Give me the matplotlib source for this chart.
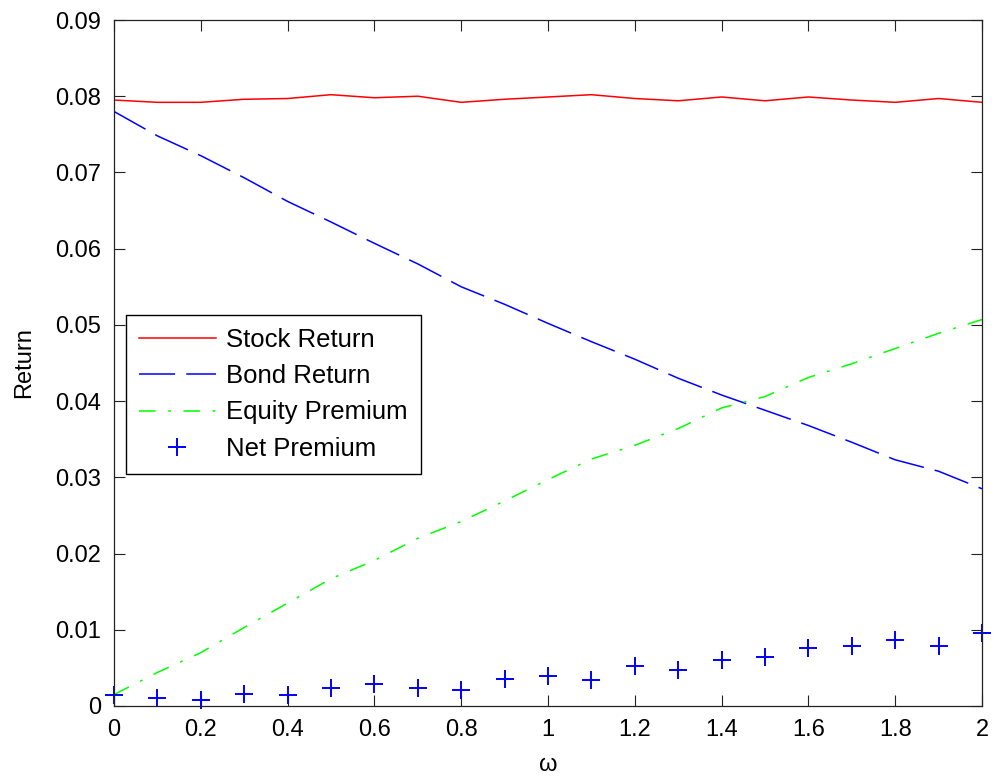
import matplotlib
matplotlib.use("Agg")
import matplotlib.pyplot as plt
import numpy as np

#%% Data
omega = [0.0, 0.1, 0.2, 0.3, 0.4, 0.5, 0.6, 0.7, 0.8, 0.9, 1.0,
         1.1, 1.2, 1.3, 1.4, 1.5, 1.6, 1.7, 1.8, 1.9, 2.0]
stock_return = [0.0795, 0.0792, 0.0792, 0.0796, 0.0797, 0.0802, 0.0798, 0.0800, 0.0792, 0.0796, 0.0799,
                0.0802, 0.0797, 0.0794, 0.0799, 0.0794, 0.0799, 0.0795, 0.0792, 0.0797, 0.0792]
bond_return = [0.0780, 0.0748, 0.0722, 0.0693, 0.0662, 0.0635, 0.0607, 0.0580, 0.0550, 0.0527, 0.0502,
               0.0478, 0.0455, 0.0430, 0.0408, 0.0388, 0.0368, 0.0346, 0.0323, 0.0308, 0.0285]
equity_premium = [0.0015, 0.0044, 0.0070, 0.0103, 0.0135, 0.0167, 0.0191, 0.0220, 0.0242, 0.0269, 0.0297,
                  0.0324, 0.0342, 0.0364, 0.0391, 0.0406, 0.0431, 0.0449, 0.0469, 0.0489, 0.0507]
net_premium = [0.0014, 0.0011, 0.0008, 0.0016, 0.0015, 0.0024, 0.0029, 0.0024, 0.0021, 0.0035, 0.0040,
               0.0034, 0.0053, 0.0047, 0.0060, 0.0064, 0.0076, 0.0079, 0.0087, 0.0079, 0.0096]

xticks = [0, 0.2, 0.4, 0.6, 0.8, 1.0, 1.2, 1.4, 1.6, 1.8, 2.0]
xtick_labels = ["0", "0.2", "0.4", "0.6", "0.8", "1", "1.2", "1.4", "1.6", "1.8", "2"]
yticks = [0, 0.01, 0.02, 0.03, 0.04, 0.05, 0.06, 0.07, 0.08, 0.09]
ytick_labels = ["0", "0.01", "0.02", "0.03", "0.04", "0.05", "0.06", "0.07", "0.08", "0.09"]

#%% Style
plt.rcParams["font.family"] = ["Liberation Sans", "DejaVu Sans"]
plt.rcParams["font.size"] = 17
plt.rcParams["lines.scale_dashes"] = False

fig = plt.figure(figsize=(9.93, 7.8), dpi=100)
ax = fig.add_axes([114 / 993, 1 - 706 / 780, 868 / 993, 686 / 780])

ax.plot(omega, stock_return, color="#ff0000", lw=1.1, label="Stock Return")
ax.plot(omega, bond_return, color="#0000ff", lw=1.1, dashes=(26, 8), label="Bond Return")
ax.plot(omega, equity_premium, color="#00ff00", lw=1.1, dashes=(12, 9, 2, 9), label="Equity Premium")
ax.plot(omega, net_premium, linestyle="none", marker="+", markersize=13.5, markeredgewidth=1.4,
        color="#0000ff", clip_on=False, label="Net Premium")

ax.set_xlim(0, 2)
ax.set_ylim(0, 0.09)
ax.set_xticks(xticks)
ax.set_xticklabels(xtick_labels)
ax.set_yticks(yticks)
ax.set_yticklabels(ytick_labels)
ax.tick_params(direction="in", length=8, width=0.8, color="#222222",
               top=True, right=True, labelsize=17)
ax.tick_params(axis="x", pad=9)
ax.tick_params(axis="y", pad=9)
for sp in ax.spines.values():
    sp.set_linewidth(0.9)
    sp.set_color("#222222")

ax.set_xlabel("ω", fontsize=17, labelpad=10)
ax.set_ylabel("Return", fontsize=17, labelpad=15)

leg = ax.legend(loc="upper left", bbox_to_anchor=(0.0138, 0.57), fancybox=False,
                edgecolor="black", framealpha=1, handlelength=3.0, handletextpad=0.4,
                labelspacing=0.48, borderpad=0.5, borderaxespad=0, fontsize=18.5)
leg.get_frame().set_linewidth(1.0)

plt.savefig("out.png", dpi=100)
